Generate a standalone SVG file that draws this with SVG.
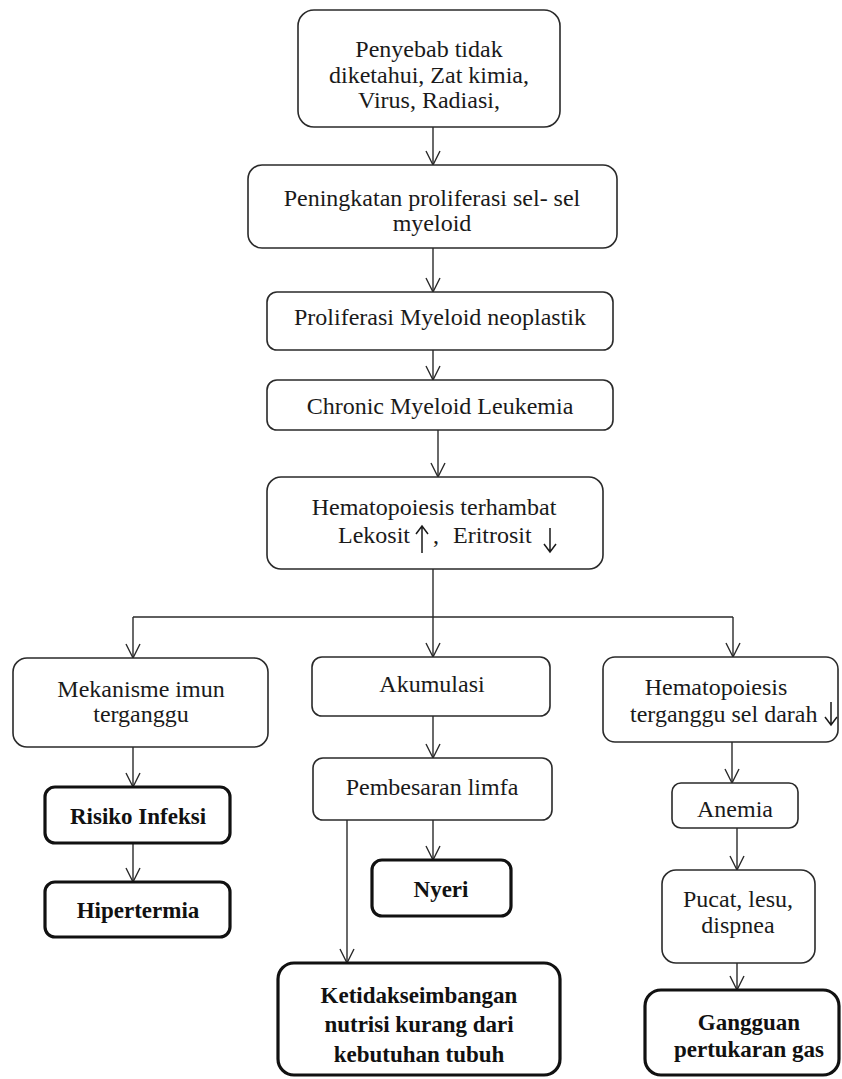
<svg xmlns="http://www.w3.org/2000/svg" width="842" height="1079" viewBox="0 0 842 1079">
<style>
.box{fill:#fff;stroke:#2a2a2a;stroke-width:1.6}
.bold{fill:#fff;stroke:#111;stroke-width:3.2}
.t{font-family:"Liberation Serif","Times New Roman",serif;font-size:24px;fill:#1a1a1a;text-anchor:middle}
.tb{font-family:"Liberation Serif","Times New Roman",serif;font-size:23px;font-weight:bold;fill:#111;text-anchor:middle}
.c{fill:none;stroke:#2a2a2a;stroke-width:1.4}
.sym{fill:none;stroke:#1a1a1a;stroke-width:1.5}
</style>
<defs>
<marker id="ah" markerUnits="userSpaceOnUse" viewBox="-16 -9 18 18" markerWidth="18" markerHeight="18" refX="0" refY="0" orient="auto">
<path d="M-14,-7 L0,0 L-14,7" fill="none" stroke="#2a2a2a" stroke-width="1.4"/>
</marker>
</defs>
<rect width="842" height="1079" fill="#fff"/>
<g id="connectors">
<line class="c" x1="433" y1="127" x2="433" y2="165" marker-end="url(#ah)"/>
<line class="c" x1="433" y1="248" x2="433" y2="292" marker-end="url(#ah)"/>
<line class="c" x1="433" y1="350" x2="433" y2="380" marker-end="url(#ah)"/>
<line class="c" x1="438" y1="430" x2="438" y2="477" marker-end="url(#ah)"/>
<line class="c" x1="433" y1="569" x2="433" y2="617"/>
<line class="c" x1="133" y1="617" x2="733" y2="617"/>
<line class="c" x1="133" y1="617" x2="133" y2="658" marker-end="url(#ah)"/>
<line class="c" x1="433" y1="617" x2="433" y2="657" marker-end="url(#ah)"/>
<line class="c" x1="733" y1="617" x2="733" y2="657" marker-end="url(#ah)"/>
<line class="c" x1="133" y1="747" x2="133" y2="787" marker-end="url(#ah)"/>
<line class="c" x1="133" y1="843" x2="133" y2="882" marker-end="url(#ah)"/>
<line class="c" x1="433" y1="716" x2="433" y2="758" marker-end="url(#ah)"/>
<line class="c" x1="433" y1="820" x2="433" y2="860" marker-end="url(#ah)"/>
<line class="c" x1="347" y1="820" x2="347" y2="963" marker-end="url(#ah)"/>
<line class="c" x1="732" y1="742" x2="732" y2="783" marker-end="url(#ah)"/>
<line class="c" x1="737" y1="828" x2="737" y2="870" marker-end="url(#ah)"/>
<line class="c" x1="737" y1="963" x2="737" y2="990" marker-end="url(#ah)"/>
</g>
<g id="n1">
<rect class="box" x="298" y="10" width="262" height="117" rx="16"/>
<text class="t" x="429" y="57">Penyebab tidak</text>
<text class="t" x="429" y="83">diketahui, Zat kimia,</text>
<text class="t" x="429" y="108">Virus, Radiasi,</text>
</g>
<g id="n2">
<rect class="box" x="248" y="165" width="369" height="83" rx="14"/>
<text class="t" x="432" y="206">Peningkatan proliferasi sel- sel</text>
<text class="t" x="432" y="231">myeloid</text>
</g>
<g id="n3">
<rect class="box" x="267" y="292" width="346" height="58" rx="10"/>
<text class="t" x="440" y="325">Proliferasi Myeloid neoplastik</text>
</g>
<g id="n4">
<rect class="box" x="267" y="380" width="346" height="50" rx="10"/>
<text class="t" x="440" y="414">Chronic Myeloid Leukemia</text>
</g>
<g id="n5">
<rect class="box" x="267" y="477" width="336" height="92" rx="14"/>
<text class="t" x="434" y="515">Hematopoiesis terhambat</text>
<text class="t" style="text-anchor:start" y="543"><tspan x="338">Lekosit</tspan><tspan x="433">,</tspan><tspan x="453">Eritrosit</tspan></text>
<path class="sym" d="M422,553 L422,526 M416,534 L422,526 L428,534"/>
<path class="sym" d="M550,528 L550,552 M544,544 L550,552 L556,544"/>
</g>
<g id="n6">
<rect class="box" x="13" y="658" width="255" height="89" rx="14"/>
<text class="t" x="141" y="697">Mekanisme imun</text>
<text class="t" x="141" y="722">terganggu</text>
</g>
<g id="n7">
<rect class="bold" x="45" y="787" width="185" height="56" rx="10"/>
<text class="tb" x="138" y="824">Risiko Infeksi</text>
</g>
<g id="n8">
<rect class="bold" x="45" y="882" width="185" height="55" rx="10"/>
<text class="tb" x="138" y="918">Hipertermia</text>
</g>
<g id="n9">
<rect class="box" x="312" y="657" width="238" height="59" rx="10"/>
<text class="t" x="432" y="692">Akumulasi</text>
</g>
<g id="n10">
<rect class="box" x="313" y="758" width="239" height="62" rx="10"/>
<text class="t" x="432" y="795">Pembesaran limfa</text>
</g>
<g id="n11">
<rect class="bold" x="372" y="860" width="139" height="56" rx="10"/>
<text class="tb" x="441" y="897">Nyeri</text>
</g>
<g id="n12">
<rect class="bold" x="278" y="963" width="282" height="112" rx="16"/>
<text class="tb" x="419" y="1003">Ketidakseimbangan</text>
<text class="tb" x="419" y="1032">nutrisi kurang dari</text>
<text class="tb" x="419" y="1062">kebutuhan tubuh</text>
</g>
<g id="n13">
<rect class="box" x="603" y="657" width="235" height="85" rx="12"/>
<text class="t" x="716" y="695">Hematopoiesis</text>
<text class="t" style="text-anchor:start" x="630" y="722">terganggu sel darah</text>
<path class="sym" d="M831,702 L831,725 M825,717 L831,725 L837,717"/>
</g>
<g id="n14">
<rect class="box" x="672" y="783" width="126" height="45" rx="9"/>
<text class="t" x="735" y="817">Anemia</text>
</g>
<g id="n15">
<rect class="box" x="662" y="870" width="153" height="93" rx="14"/>
<text class="t" x="738" y="907">Pucat, lesu,</text>
<text class="t" x="738" y="933">dispnea</text>
</g>
<g id="n16">
<rect class="bold" x="645" y="990" width="194" height="85" rx="16"/>
<text class="tb" x="749" y="1030">Gangguan</text>
<text class="tb" x="749" y="1057">pertukaran gas</text>
</g>
</svg>
